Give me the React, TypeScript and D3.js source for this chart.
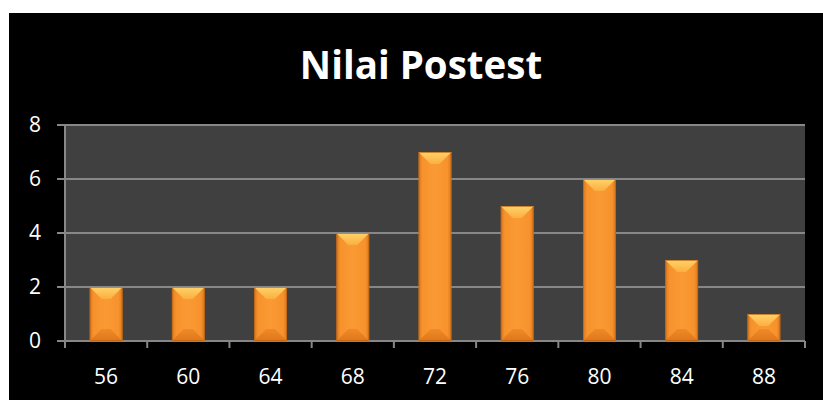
import React from 'react';
import * as d3 from 'd3';

const categories = ['56', '60', '64', '68', '72', '76', '80', '84', '88'];
const values = [2, 2, 2, 4, 7, 5, 6, 3, 1];
const yTicks = [0, 2, 4, 6, 8];
const title = 'Nilai Postest';

const W = 823;
const H = 401;
const margin = { top: 125, right: 18, bottom: 60, left: 65 };
const font = '"Open Sans", "DejaVu Sans", sans-serif';

const App: React.FC = () => {
  const x = d3.scaleBand<string>()
    .domain(categories)
    .range([margin.left, W - margin.right])
    .paddingInner(0.6)
    .paddingOuter(0.3);
  const y = d3.scaleLinear().domain([0, 8]).range([H - margin.bottom, margin.top]);
  const band = (W - margin.left - margin.right) / categories.length;
  const x0 = margin.left;
  const x1 = W - margin.right;
  const y0 = y(0);

  return (
    <svg width={W} height={H} style={{ position: 'absolute', left: 0, top: 0 }}>
      <defs>
        <linearGradient id="barBody" x1="0" x2="1" y1="0" y2="0">
          <stop offset="0" stopColor="#d9771c" />
          <stop offset="0.12" stopColor="#f7922c" />
          <stop offset="0.5" stopColor="#fa9a34" />
          <stop offset="0.88" stopColor="#f7922c" />
          <stop offset="1" stopColor="#d9771c" />
        </linearGradient>
        <linearGradient id="barTop" x1="0" x2="0" y1="0" y2="1">
          <stop offset="0" stopColor="#ffd36a" />
          <stop offset="1" stopColor="#fcae40" />
        </linearGradient>
        <linearGradient id="barBottom" x1="0" x2="0" y1="0" y2="1">
          <stop offset="0" stopColor="#ef8a28" />
          <stop offset="1" stopColor="#e0761c" />
        </linearGradient>
      </defs>
      <rect x={9} y={13} width={W - 9} height={H - 14} fill="#000" />
      <text x={421} y={79} textAnchor="middle" fill="#fff" fontFamily={font} fontWeight="bold" fontSize={38.5}>
        {title}
      </text>
      <rect x={x0} y={margin.top} width={x1 - x0} height={y0 - margin.top} fill="#404040" />
      {yTicks.map(t => (
        <g key={t}>
          <line x1={57} x2={x1} y1={y(t)} y2={y(t)} stroke="#878787" strokeWidth={2} />
          <text x={41} y={y(t)} dy="0.35em" textAnchor="end" fill="#fff" fontFamily={font} fontSize={21}>
            {t}
          </text>
        </g>
      ))}
      <line x1={x0} x2={x0} y1={margin.top} y2={y0 + 7} stroke="#878787" strokeWidth={2} />
      {d3.range(categories.length + 1).map(i => (
        <line key={i} x1={x0 + i * band} x2={x0 + i * band} y1={y0} y2={y0 + 7} stroke="#878787" strokeWidth={2} />
      ))}
      {categories.map((c, i) => {
        const bx = x(c)!;
        const bw = x.bandwidth();
        const by = y(values[i]);
        const bh = y0 - by;
        const bev = Math.min(12, bh / 2);
        const ins = Math.min(bw / 2 - 4, bev * 1.0);
        return (
          <g key={c}>
            <rect x={bx} y={by} width={bw} height={bh} fill="url(#barBody)" />
            <polygon
              points={`${bx},${by} ${bx + bw},${by} ${bx + bw - ins},${by + bev} ${bx + ins},${by + bev}`}
              fill="url(#barTop)"
            />
            <polygon
              points={`${bx},${y0} ${bx + bw},${y0} ${bx + bw - ins},${y0 - bev} ${bx + ins},${y0 - bev}`}
              fill="url(#barBottom)"
            />
            <rect x={bx + 0.5} y={by + 0.5} width={bw - 1} height={bh - 1} fill="none" stroke="#b86414" strokeOpacity={0.7} />
            <text x={bx + bw / 2} y={377} dy="0.35em" textAnchor="middle" fill="#fff" fontFamily={font} fontSize={21}>
              {c}
            </text>
          </g>
        );
      })}
    </svg>
  );
};

export default App;
